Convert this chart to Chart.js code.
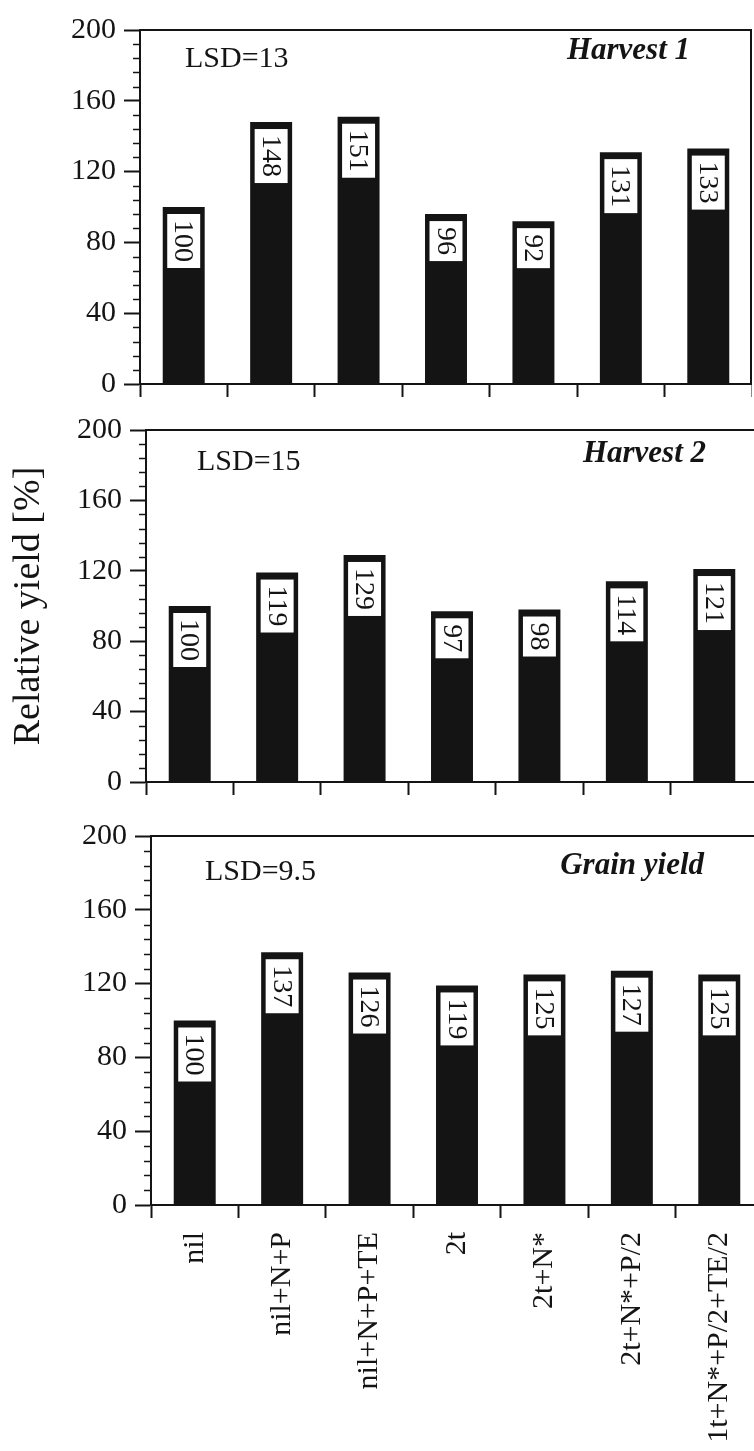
<!DOCTYPE html>
<html>
<head>
<meta charset="utf-8">
<script src="https://cdn.jsdelivr.net/npm/chart.js@4.4.1/dist/chart.umd.min.js"></script>
<style>
  html, body { margin: 0; padding: 0; background: #fff; overflow: hidden; width: 754px; height: 1451px; }
  canvas { position: absolute; left: 0; }
</style>
</head>
<body>
<canvas id="p1"></canvas>
<canvas id="p2"></canvas>
<canvas id="p3"></canvas>
<script>
// Data
const categories = ['nil', 'nil+N+P', 'nil+N+P+TE', '2t', '2t+N*', '2t+N*+P/2', '1t+N*+P/2+TE/2'];
const harvest1 = [100, 148, 151, 96, 92, 131, 133];
const harvest2 = [100, 119, 129, 97, 98, 114, 121];
const grainYield = [100, 137, 126, 119, 125, 127, 125];
const lsdLabels = ['LSD=13', 'LSD=15', 'LSD=9.5'];
const panelTitles = ['Harvest 1', 'Harvest 2', 'Grain yield'];
const yMin = 0, yMax = 200, majorStep = 40, minorStep = 8;

const INK = '#141414';
const SERIF = '"Liberation Serif", "Times New Roman", serif';

// Panel layout (canvas placement + plot area)
const panels = [
  { id: 'p1', values: harvest1, top: 4, width: 752, height: 406, axisLeft: 140, xHeight: 20,
    lsd: lsdLabels[0], title: panelTitles[0], lsdAt: [45, 29], titleAt: [62, 21], yTitle: false, xLabels: false },
  { id: 'p2', values: harvest2, top: 404, width: 758, height: 404, axisLeft: 146, xHeight: 20,
    lsd: lsdLabels[1], title: panelTitles[1], lsdAt: [51, 32], titleAt: [52, 24], yTitle: true, xLabels: false },
  { id: 'p3', values: grainYield, top: 810, width: 763, height: 641, axisLeft: 151, xHeight: 246,
    lsd: lsdLabels[2], title: panelTitles[2], lsdAt: [54, 36], titleAt: [59, 30], yTitle: false, xLabels: true }
];

// Draw frame, minor ticks, value boxes and panel captions
const decoPlugin = {
  id: 'deco',
  afterDatasetsDraw(chart, args, opts) {
    const ctx = chart.ctx;
    const meta = chart.getDatasetMeta(0);
    ctx.save();
    ctx.font = '28px ' + SERIF;
    meta.data.forEach((bar, i) => {
      const txt = String(chart.data.datasets[0].data[i]);
      const tw = ctx.measureText(txt).width;
      const bw = bar.width - 9;
      const bh = tw + 12;
      const bx = bar.x - bw / 2;
      const by = bar.y + 7;
      ctx.fillStyle = '#fff';
      ctx.fillRect(bx, by, bw, bh);
      ctx.save();
      ctx.translate(bar.x, by + bh / 2);
      ctx.rotate(Math.PI / 2);
      ctx.fillStyle = INK;
      ctx.textAlign = 'center';
      ctx.textBaseline = 'middle';
      ctx.fillText(txt, 0, 1);
      ctx.restore();
    });
    ctx.restore();
  },
  afterDraw(chart, args, opts) {
    const ctx = chart.ctx;
    const a = chart.chartArea;
    const y = chart.scales.y;
    ctx.save();
    ctx.strokeStyle = INK;
    // top and right frame
    ctx.lineWidth = 2;
    ctx.beginPath();
    ctx.moveTo(a.left, a.top);
    ctx.lineTo(a.right - 1, a.top);
    ctx.lineTo(a.right - 1, a.bottom);
    ctx.stroke();
    // minor ticks
    ctx.lineWidth = 1.5;
    for (let v = yMin + minorStep; v < yMax; v += minorStep) {
      if (v % majorStep === 0) continue;
      const py = Math.round(y.getPixelForValue(v)) + 0.5;
      ctx.beginPath();
      ctx.moveTo(a.left - 7, py);
      ctx.lineTo(a.left, py);
      ctx.stroke();
    }
    // captions
    ctx.fillStyle = INK;
    ctx.textBaseline = 'middle';
    ctx.textAlign = 'left';
    ctx.font = '30px ' + SERIF;
    ctx.fillText(opts.lsd, a.left + opts.lsdAt[0], a.top + opts.lsdAt[1]);
    ctx.textAlign = 'right';
    ctx.font = 'italic bold 31px ' + SERIF;
    ctx.fillText(opts.title, a.right - opts.titleAt[0], a.top + opts.titleAt[1]);
    ctx.restore();
  }
};

panels.forEach(p => {
  const cv = document.getElementById(p.id);
  cv.width = p.width;
  cv.height = p.height;
  cv.style.top = p.top + 'px';
  cv.style.width = p.width + 'px';
  cv.style.height = p.height + 'px';

  new Chart(cv.getContext('2d'), {
    type: 'bar',
    data: {
      labels: categories,
      datasets: [{
        data: p.values,
        backgroundColor: INK,
        borderWidth: 0,
        barPercentage: 0.48,
        categoryPercentage: 1
      }]
    },
    plugins: [decoPlugin],
    options: {
      responsive: false,
      animation: false,
      layout: { padding: { top: 20, left: 0, right: 0, bottom: 0 } },
      plugins: {
        legend: { display: false },
        tooltip: { enabled: false },
        deco: { lsd: p.lsd, title: p.title, lsdAt: p.lsdAt, titleAt: p.titleAt }
      },
      scales: {
        x: {
          type: 'category',
          offset: true,
          afterFit: s => { s.height = p.xHeight; s.paddingLeft = 0; s.paddingRight = 0; },
          border: { display: true, color: INK, width: 2 },
          grid: { offset: true, drawOnChartArea: false, drawTicks: true, tickLength: 13, tickColor: INK, tickWidth: 2 },
          ticks: {
            display: p.xLabels,
            minRotation: 90,
            maxRotation: 90,
            autoSkip: false,
            padding: 14,
            color: INK,
            font: { family: SERIF, size: 30 }
          }
        },
        y: {
          min: yMin,
          max: yMax,
          afterFit: s => { s.width = p.axisLeft; },
          border: { display: true, color: INK, width: 2 },
          grid: {
            drawOnChartArea: false,
            drawTicks: true,
            tickLength: 16,
            tickWidth: 2,
            tickColor: c => (c.tick && c.tick.value % majorStep === 0) ? INK : 'rgba(0,0,0,0)'
          },
          ticks: {
            stepSize: minorStep,
            autoSkip: false,
            padding: 8,
            color: INK,
            font: { family: SERIF, size: 30 },
            callback: v => (v % majorStep === 0 ? v : '')
          },
          title: {
            display: p.yTitle,
            text: 'Relative yield [%]',
            color: INK,
            font: { family: SERIF, size: 38 },
            padding: { top: 6, bottom: 0 }
          }
        }
      }
    }
  });
});
</script>
</body>
</html>
